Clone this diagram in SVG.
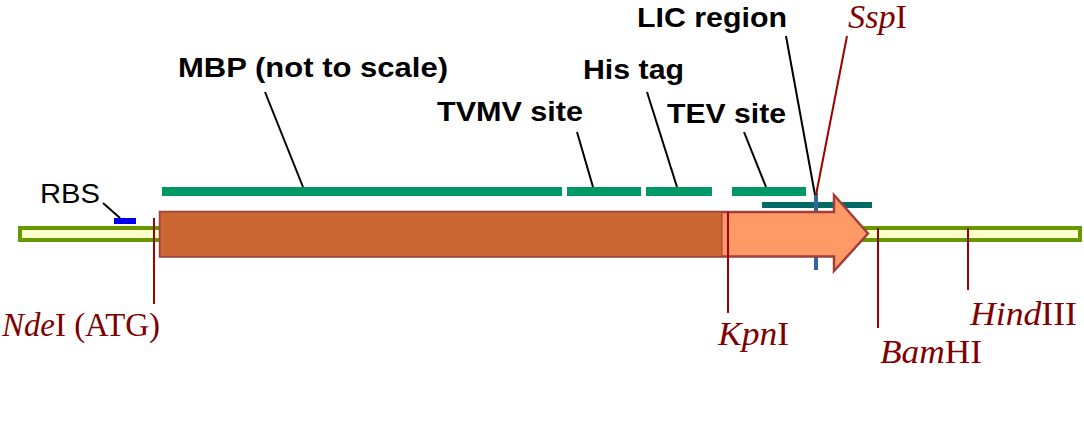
<svg xmlns="http://www.w3.org/2000/svg" width="1084" height="437" viewBox="0 0 1084 437">
<style>
.lbl{font-family:"Liberation Sans",Arial,sans-serif;font-weight:bold;font-size:27px;fill:#000}
.rbs{font-family:"Liberation Sans",Arial,sans-serif;font-size:28px;fill:#000}
.enz{font-family:"Liberation Serif","Times New Roman",serif;font-size:33px;fill:#800000}
.lead{stroke:#000;stroke-width:2;fill:none}
.cut{stroke:#A00000;stroke-width:2;fill:none}
.bar{fill:#009966}
</style>
<rect width="1084" height="437" fill="#fff"/>
<g id="backbone">
<rect x="20" y="228" width="1060" height="12" fill="#FFFFCC" stroke="#669900" stroke-width="4"/>
</g>
<g id="rbs">
<rect x="114" y="218" width="22" height="6" fill="#0000EE"/>
<text class="rbs" x="40" y="203" textLength="60" lengthAdjust="spacingAndGlyphs">RBS</text>
</g>
<g id="features">
<rect class="bar" x="162" y="187" width="400" height="9"/>
<rect class="bar" x="567" y="187" width="74" height="9"/>
<rect class="bar" x="646" y="187" width="66" height="9"/>
<rect class="bar" x="732" y="187" width="74" height="9"/>
<rect x="762" y="202" width="110" height="6" fill="#006B66"/>
<line x1="816" y1="193" x2="816" y2="270" stroke="#336699" stroke-width="4"/>
</g>
<g id="arrow">
<polygon points="160,212 834,212 834,195 868,233.5 834,271 834,256.5 160,256.5" fill="#FF9966" stroke="#A0403A" stroke-width="2.5" stroke-linejoin="miter"/>
<rect x="160" y="212" width="562" height="44.5" fill="#CC6633" stroke="#A0403A" stroke-width="1"/>
</g>
<g id="connectors">
<line class="lead" x1="103" y1="203" x2="120" y2="218"/>
<line class="lead" x1="265" y1="92" x2="303" y2="187"/>
<line class="lead" x1="577" y1="132" x2="593" y2="187"/>
<line class="lead" x1="647" y1="92" x2="677" y2="187"/>
<line class="lead" x1="744" y1="132" x2="766" y2="187"/>
<line class="lead" x1="786" y1="36" x2="815" y2="195"/>
<line class="cut" x1="847" y1="36" x2="816" y2="195"/>
<line class="cut" x1="154" y1="218" x2="154" y2="304"/>
<line class="cut" x1="728" y1="212" x2="728" y2="313"/>
<line class="cut" x1="878" y1="228" x2="878" y2="328"/>
<line class="cut" x1="968" y1="228" x2="968" y2="290"/>
</g>
<g id="labels">
<text class="lbl" x="178" y="77" textLength="270" lengthAdjust="spacingAndGlyphs">MBP (not to scale)</text>
<text class="lbl" x="583" y="79" textLength="101" lengthAdjust="spacingAndGlyphs">His tag</text>
<text class="lbl" x="437" y="121" textLength="146" lengthAdjust="spacingAndGlyphs">TVMV site</text>
<text class="lbl" x="667" y="123" textLength="119" lengthAdjust="spacingAndGlyphs">TEV site</text>
<text class="lbl" x="637" y="27" textLength="150" lengthAdjust="spacingAndGlyphs">LIC region</text>
</g>
<g id="enzymes">
<text class="enz" x="848" y="28" textLength="59" lengthAdjust="spacingAndGlyphs"><tspan font-style="italic">Ssp</tspan>I</text>
<text class="enz" x="2" y="336" textLength="158" lengthAdjust="spacingAndGlyphs"><tspan font-style="italic">Nde</tspan>I (ATG)</text>
<text class="enz" x="718" y="345" textLength="71" lengthAdjust="spacingAndGlyphs"><tspan font-style="italic">Kpn</tspan>I</text>
<text class="enz" x="880" y="363" textLength="102" lengthAdjust="spacingAndGlyphs"><tspan font-style="italic">Bam</tspan>HI</text>
<text class="enz" x="970" y="325" textLength="107" lengthAdjust="spacingAndGlyphs"><tspan font-style="italic">Hind</tspan>III</text>
</g>
</svg>
